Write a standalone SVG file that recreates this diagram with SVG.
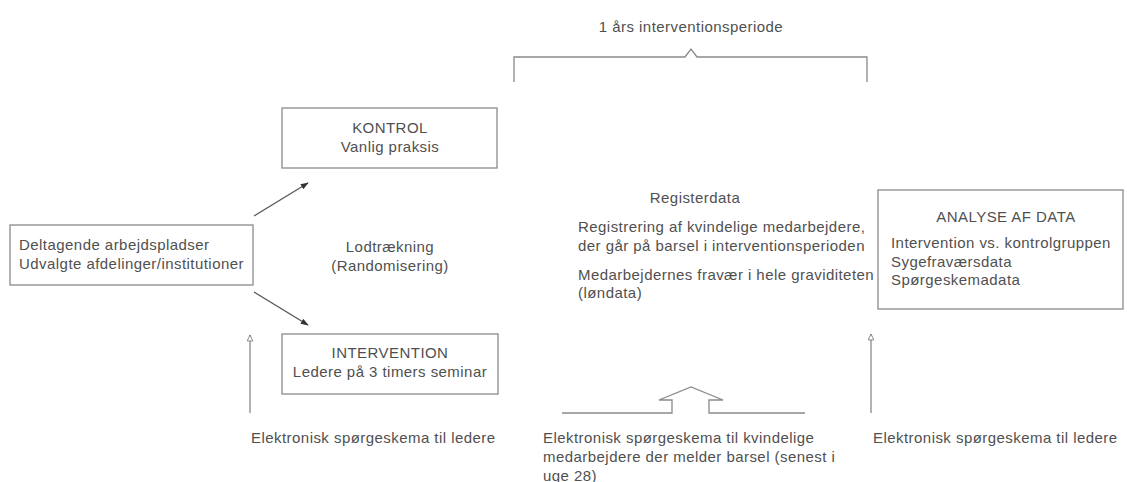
<svg xmlns="http://www.w3.org/2000/svg" width="1127" height="482" viewBox="0 0 1127 482">
<style>
text{font-family:"Liberation Sans",Arial,sans-serif;font-size:15px;fill:#505050;letter-spacing:0.45px}
.c{text-anchor:middle}
.box{fill:#fff;stroke:#8a8a8a;stroke-width:1.3}
.ln{fill:none;stroke:#8a8a8a;stroke-width:1.3}
.dk{fill:none;stroke:#555;stroke-width:1.2}
</style>
<defs>
<marker id="fa" viewBox="0 0 10 10" refX="9" refY="5" markerWidth="8" markerHeight="8" markerUnits="userSpaceOnUse" orient="auto"><path d="M0,1.5 L10,5 L0,8.5 z" fill="#333"/></marker>
<marker id="oa" viewBox="0 0 10 10" refX="9" refY="5" markerWidth="9" markerHeight="7" markerUnits="userSpaceOnUse" orient="auto"><path d="M0.5,1 L9,5 L0.5,9 z" fill="#fff" stroke="#777" stroke-width="1.2"/></marker>
</defs>
<rect width="1127" height="482" fill="#fff"/>
<g id="period">
<text class="c" x="691" y="32">1 års interventionsperiode</text>
<path class="ln" d="M514,82 V57 H685 L691,49 L697,57 H867 V82"/>
</g>
<g id="deltagende">
<rect class="box" x="10" y="225" width="243" height="60"/>
<text x="19" y="250">Deltagende arbejdspladser</text>
<text x="19" y="269">Udvalgte afdelinger/institutioner</text>
</g>
<g id="kontrol">
<rect class="box" x="282" y="108" width="215" height="60"/>
<text class="c" x="390" y="133">KONTROL</text>
<text class="c" x="390" y="152">Vanlig praksis</text>
</g>
<g id="lodtraekning">
<text class="c" x="390" y="252">Lodtrækning</text>
<text class="c" x="390" y="271">(Randomisering)</text>
</g>
<g id="intervention">
<rect class="box" x="282" y="334" width="216" height="60"/>
<text class="c" x="390" y="358">INTERVENTION</text>
<text class="c" x="390" y="377">Ledere på 3 timers seminar</text>
</g>
<g id="registerdata">
<text class="c" x="695" y="203">Registerdata</text>
<text x="578" y="232">Registrering af kvindelige medarbejdere,</text>
<text x="578" y="251">der går på barsel i interventionsperioden</text>
<text x="578" y="280">Medarbejdernes fravær i hele graviditeten</text>
<text x="578" y="298">(løndata)</text>
</g>
<g id="analyse">
<rect class="box" x="878" y="190" width="245" height="119"/>
<text class="c" x="1006" y="222">ANALYSE AF DATA</text>
<text x="891" y="248">Intervention vs. kontrolgruppen</text>
<text x="891" y="267">Sygefraværsdata</text>
<text x="891" y="285">Spørgeskemadata</text>
</g>
<g id="label-left">
<text x="251" y="443">Elektronisk spørgeskema til ledere</text>
</g>
<g id="label-center">
<text x="543" y="443">Elektronisk spørgeskema til kvindelige</text>
<text x="543" y="462">medarbejdere der melder barsel (senest i</text>
<text x="543" y="481">uge 28)</text>
</g>
<g id="label-right">
<text x="873" y="443">Elektronisk spørgeskema til ledere</text>
</g>
<g id="connectors">
<line class="dk" x1="254" y1="216" x2="308" y2="183" marker-end="url(#fa)"/>
<line class="dk" x1="254" y1="292" x2="308" y2="325" marker-end="url(#fa)"/>
<line class="ln" x1="250" y1="413" x2="250" y2="335" marker-end="url(#oa)"/>
<line class="ln" x1="871" y1="413" x2="871" y2="334" marker-end="url(#oa)"/>
<path class="ln" d="M562,413 H672 V400 H659 L691,387 L723,400 H709 V413 H805"/>
</g>
</svg>
